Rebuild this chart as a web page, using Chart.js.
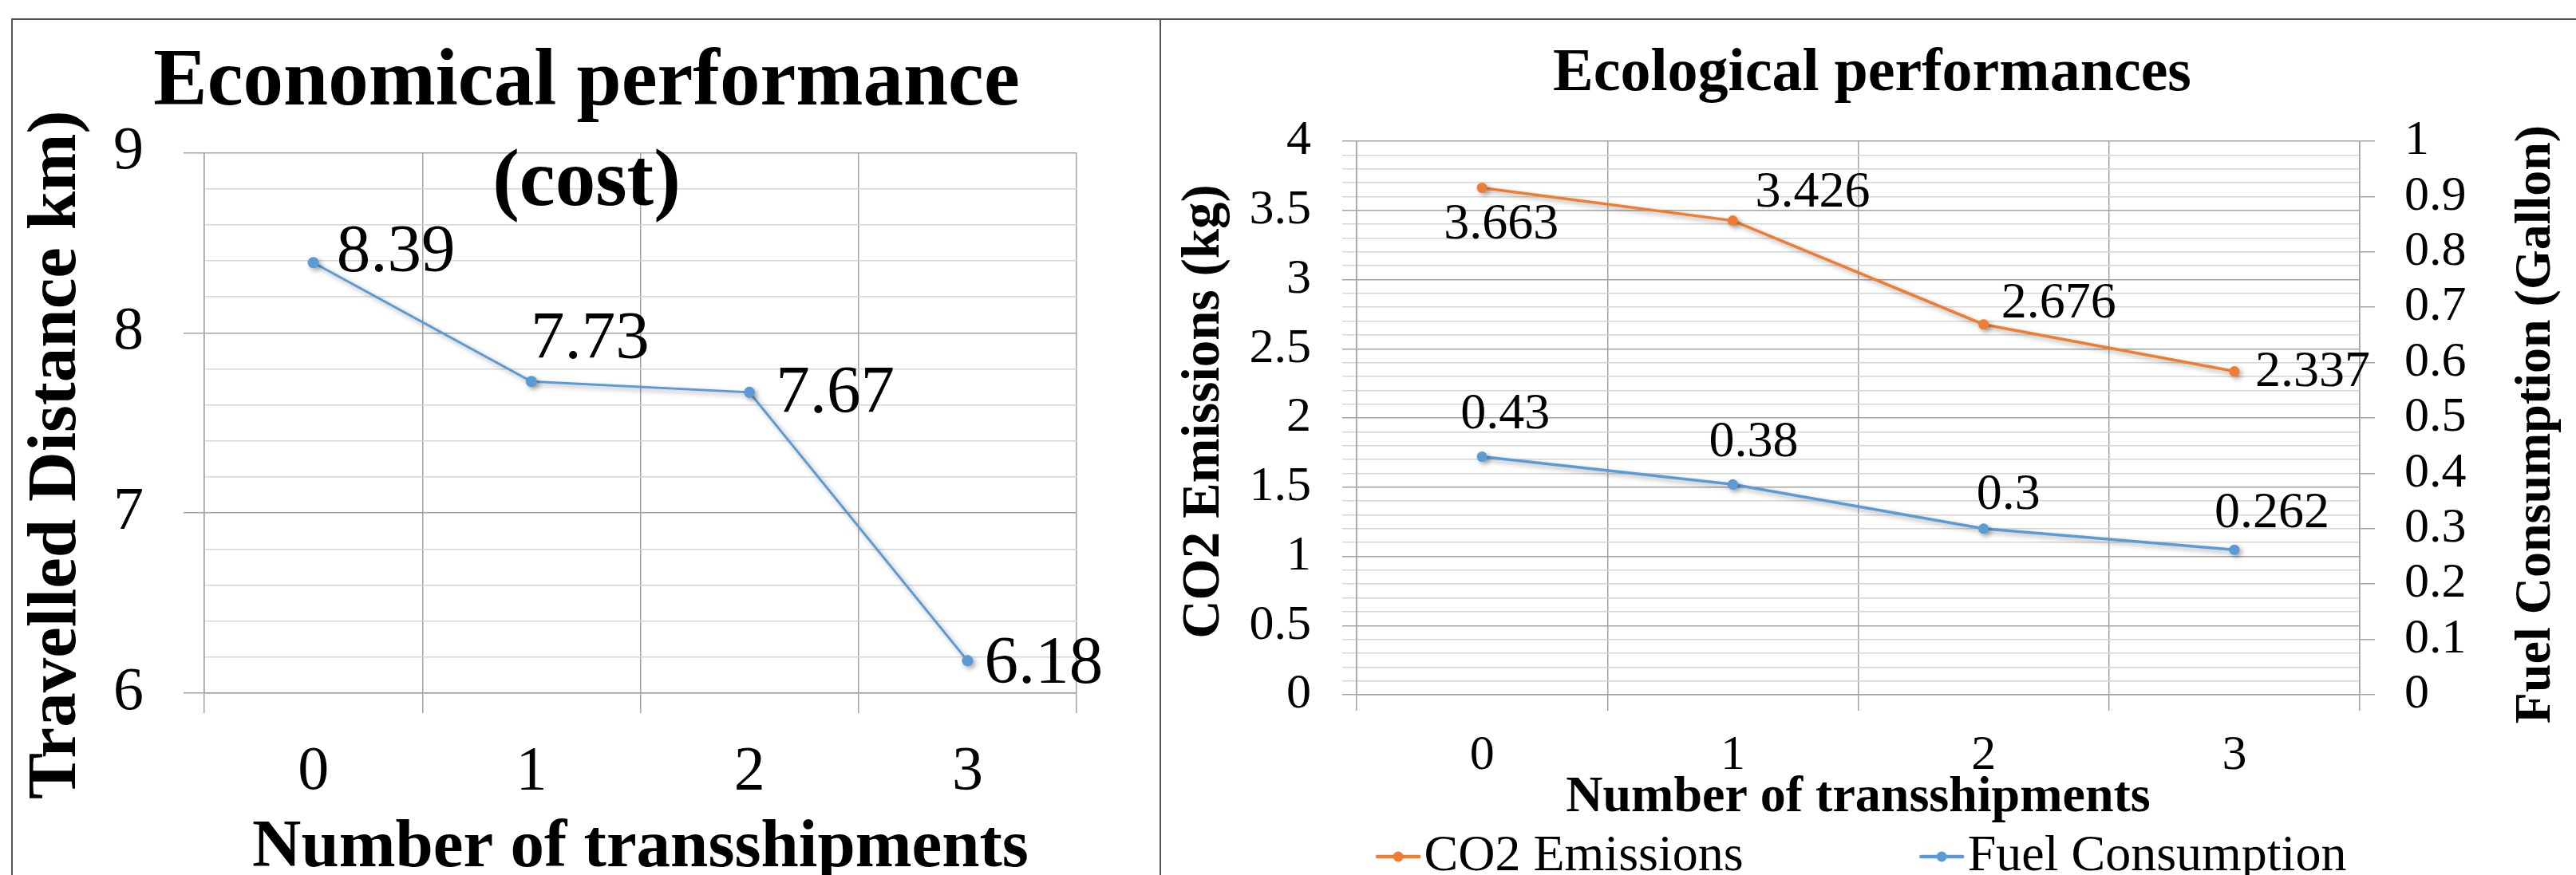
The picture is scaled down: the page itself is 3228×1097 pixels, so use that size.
<!DOCTYPE html>
<html>
<head>
<meta charset="utf-8">
<title>Economical and ecological performance</title>
<script src="https://cdn.jsdelivr.net/npm/chart.js@4.4.1/dist/chart.umd.min.js"></script>
<style>
  html, body { margin: 0; padding: 0; background: #fff; overflow: hidden; }
  body { width: 3228px; height: 1097px; position: relative; }
  canvas { position: absolute; top: 0; }
  #econ { left: 0; }
  #eco { left: 1454px; }
  .rule { position: absolute; background: #555; z-index: 2; }
</style>
</head>
<body>
<canvas id="econ" width="1454" height="1150"></canvas>
<canvas id="eco" width="1774" height="1150"></canvas>
<div class="rule" style="left:14px; top:23px; width:3214px; height:2px;"></div>
<div class="rule" style="left:14px; top:23px; width:2px; height:1074px;"></div>
<div class="rule" style="left:1453px; top:23px; width:2px; height:1074px;"></div>
<script>
// data
const categories = ["0", "1", "2", "3"];
const distanceKm = [8.39, 7.73, 7.67, 6.18];
const co2Kg = [3.663, 3.426, 2.676, 2.337];
const fuelGallon = [0.43, 0.38, 0.3, 0.262];

// where each value label sits relative to its point (px)
const distanceLabelDx = [29, -1, 33, 21];
const distanceLabelDy = [-12, -52, 3, 5];
const co2LabelDx = [-48, 28, 22, 26];
const co2LabelDy = [47, -34, -26, 2];
const fuelLabelDx = [-27, -30, -9, -25];
const fuelLabelDy = [-52, -52, -42, -45];

const BLUE = "#5B9BD5";
const ORANGE = "#ED7D31";
const MAJOR = "#a3a3a3";
const MINOR = "#d6d6d6";
const SERIF = "'Liberation Serif', 'Times New Roman', serif";
const NB = "\u00a0";

Chart.defaults.font.family = SERIF;
Chart.defaults.color = "#000";

const isStep = (v, step) => Math.abs(v / step - Math.round(v / step)) < 1e-6;

// excel-ish drop shadow under the lines
const lineShadow = {
  id: "lineShadow",
  beforeDatasetsDraw(chart) {
    const c = chart.ctx;
    c.save();
    c.shadowColor = "rgba(0,0,0,0.35)";
    c.shadowBlur = 6;
    c.shadowOffsetX = 3;
    c.shadowOffsetY = 3;
  },
  afterDatasetsDraw(chart) {
    chart.ctx.restore();
  },
};

// value labels next to each point
const valueLabels = {
  id: "valueLabels",
  afterDraw(chart, args, opts) {
    const ctx = chart.ctx;
    ctx.save();
    ctx.font = opts.size + "px " + SERIF;
    ctx.fillStyle = "#000";
    ctx.textAlign = "left";
    ctx.textBaseline = "middle";
    chart.data.datasets.forEach((ds, i) => {
      chart.getDatasetMeta(i).data.forEach((pt, j) => {
        ctx.fillText(String(ds.data[j]), pt.x + ds.labelDx[j], pt.y + ds.labelDy[j]);
      });
    });
    ctx.restore();
  },
};

// vertical axis titles, all reading bottom-to-top
const sideTitles = {
  id: "sideTitles",
  afterDraw(chart, args, opts) {
    const ctx = chart.ctx;
    const mid = (chart.chartArea.top + chart.chartArea.bottom) / 2;
    opts.items.forEach((t) => {
      const s = chart.scales[t.axis];
      const x = t.edge === "left" ? s.left + t.inset : s.right - t.inset;
      ctx.save();
      ctx.translate(x, mid + t.shift);
      ctx.rotate(-Math.PI / 2);
      ctx.font = "bold " + t.size + "px " + SERIF;
      ctx.fillStyle = "#000";
      ctx.textAlign = "center";
      ctx.textBaseline = "middle";
      ctx.fillText(t.text, 0, 0);
      ctx.restore();
    });
  },
};

// legend marker: line with a dot
function lineDot(color) {
  const c = document.createElement("canvas");
  c.width = 58;
  c.height = 16;
  const g = c.getContext("2d");
  g.strokeStyle = color;
  g.lineWidth = 4.5;
  g.lineCap = "round";
  g.beginPath();
  g.moveTo(3, 8);
  g.lineTo(55, 8);
  g.stroke();
  g.fillStyle = color;
  g.beginPath();
  g.arc(29, 8, 6.5, 0, Math.PI * 2);
  g.fill();
  return c;
}

// ---------- left: economical performance ----------
new Chart(document.getElementById("econ"), {
  type: "line",
  data: {
    labels: categories,
    datasets: [
      {
        label: "Travelled Distance",
        data: distanceKm,
        borderColor: BLUE,
        backgroundColor: BLUE,
        borderWidth: 3,
        pointRadius: 7,
        pointBorderWidth: 0,
        tension: 0,
        labelDx: distanceLabelDx,
        labelDy: distanceLabelDy,
      },
    ],
  },
  plugins: [lineShadow, valueLabels, sideTitles],
  options: {
    responsive: false,
    animation: false,
    events: [],
    layout: { padding: { left: 20, right: 105, top: 0, bottom: 0 } },
    plugins: {
      legend: { display: false },
      tooltip: { enabled: false },
      valueLabels: { size: 85 },
      sideTitles: {
        items: [{ axis: "y", edge: "left", inset: 52, shift: 40, size: 87, text: "Travelled Distance km)" }],
      },
      title: {
        display: true,
        text: [NB.repeat(4) + "Economical performance", NB.repeat(4) + "(cost)"],
        color: "#000",
        font: { size: 101, weight: "bold", lineHeight: 1.25 },
        padding: { top: 42, bottom: -103 },
      },
    },
    scales: {
      x: {
        offset: true,
        grid: { offset: true, color: MAJOR, lineWidth: 1.5, tickLength: 25, tickColor: MAJOR },
        border: { color: MAJOR, width: 1.5 },
        ticks: { font: { size: 78 }, padding: 28, color: "#000" },
        title: {
          display: true,
          text: "Number of transshipments",
          color: "#000",
          font: { size: 85, weight: "bold" },
          padding: { top: 0, bottom: 35 },
        },
        afterFit: (s) => { s.height = 281; },
      },
      y: {
        min: 6,
        max: 9,
        ticks: {
          stepSize: 0.2,
          autoSkip: false,
          font: { size: 76 },
          padding: 50,
          color: "#000",
          callback: (v) => (isStep(v, 1) ? String(Math.round(v)) : ""),
        },
        grid: {
          color: (c) => (isStep(c.tick.value, 1) ? MAJOR : MINOR),
          tickColor: (c) => (isStep(c.tick.value, 1) ? MAJOR : "rgba(0,0,0,0)"),
          lineWidth: 1.5,
          tickLength: 26,
        },
        border: { color: MAJOR, width: 1.5 },
        afterFit: (s) => { s.width = 236; },
      },
    },
  },
});

// ---------- right: ecological performances ----------
new Chart(document.getElementById("eco"), {
  type: "line",
  data: {
    labels: categories,
    datasets: [
      {
        label: "CO2 Emissions",
        data: co2Kg,
        yAxisID: "y",
        borderColor: ORANGE,
        backgroundColor: ORANGE,
        borderWidth: 3.5,
        pointRadius: 6.5,
        pointBorderWidth: 0,
        tension: 0,
        labelDx: co2LabelDx,
        labelDy: co2LabelDy,
      },
      {
        label: "Fuel Consumption",
        data: fuelGallon,
        yAxisID: "y1",
        borderColor: BLUE,
        backgroundColor: BLUE,
        borderWidth: 3.5,
        pointRadius: 6.5,
        pointBorderWidth: 0,
        tension: 0,
        labelDx: fuelLabelDx,
        labelDy: fuelLabelDy,
      },
    ],
  },
  plugins: [lineShadow, valueLabels, sideTitles],
  options: {
    responsive: false,
    animation: false,
    events: [],
    layout: { padding: { left: 10, right: 0, top: 0, bottom: 34 } },
    plugins: {
      tooltip: { enabled: false },
      valueLabels: { size: 64 },
      sideTitles: {
        items: [
          { axis: "y", edge: "left", inset: 46, shift: -8, size: 67, text: "CO2 Emissions (kg)" },
          { axis: "y1", edge: "right", inset: 50, shift: 8, size: 64, text: "Fuel Consumption (Gallon)" },
        ],
      },
      title: {
        display: true,
        text: "Ecological performances",
        color: "#000",
        font: { size: 76, weight: "bold", lineHeight: 1.2 },
        padding: { top: 48, bottom: 37.8 },
      },
      legend: {
        position: "bottom",
        labels: {
          font: { size: 64 },
          color: "#000",
          usePointStyle: true,
          boxWidth: 1,
          padding: 8,
          generateLabels: (chart) =>
            Chart.defaults.plugins.legend.labels.generateLabels(chart).map((item, i, all) => {
              const ds = chart.data.datasets[item.datasetIndex];
              item.pointStyle = lineDot(ds.borderColor);
              if (i < all.length - 1) item.text = item.text + NB.repeat(15);
              return item;
            }),
        },
      },
    },
    scales: {
      x: {
        offset: true,
        grid: { offset: true, color: MAJOR, lineWidth: 1.5, tickLength: 20, tickColor: MAJOR },
        border: { color: MAJOR, width: 1.5 },
        ticks: { font: { size: 62 }, padding: 20, color: "#000" },
        title: {
          display: true,
          text: "Number of transshipments",
          color: "#000",
          font: { size: 64, weight: "bold" },
          padding: { top: 0, bottom: -5 },
        },
        afterFit: (s) => { s.height = 163; },
      },
      y: {
        position: "left",
        min: 0,
        max: 4,
        ticks: {
          stepSize: 0.1,
          autoSkip: false,
          font: { size: 62 },
          padding: 39,
          color: "#000",
          callback: (v) => (isStep(v, 0.5) ? String(+v.toFixed(1)) : ""),
        },
        grid: {
          color: (c) => (isStep(c.tick.value, 0.5) ? MAJOR : MINOR),
          tickColor: (c) => (isStep(c.tick.value, 0.5) ? MAJOR : MINOR),
          lineWidth: 1.5,
          tickLength: 18,
        },
        border: { color: MAJOR, width: 1.5 },
        afterFit: (s) => { s.width = 236; },
      },
      y1: {
        position: "right",
        min: 0,
        max: 1,
        ticks: {
          stepSize: 0.1,
          autoSkip: false,
          font: { size: 62 },
          padding: 37,
          color: "#000",
          callback: (v) => String(+v.toFixed(1)),
        },
        grid: { drawOnChartArea: false, color: MAJOR, tickColor: MAJOR, lineWidth: 1.5, tickLength: 19 },
        border: { color: MAJOR, width: 1.5 },
        afterFit: (s) => { s.width = 271; },
      },
    },
  },
});
</script>
</body>
</html>
